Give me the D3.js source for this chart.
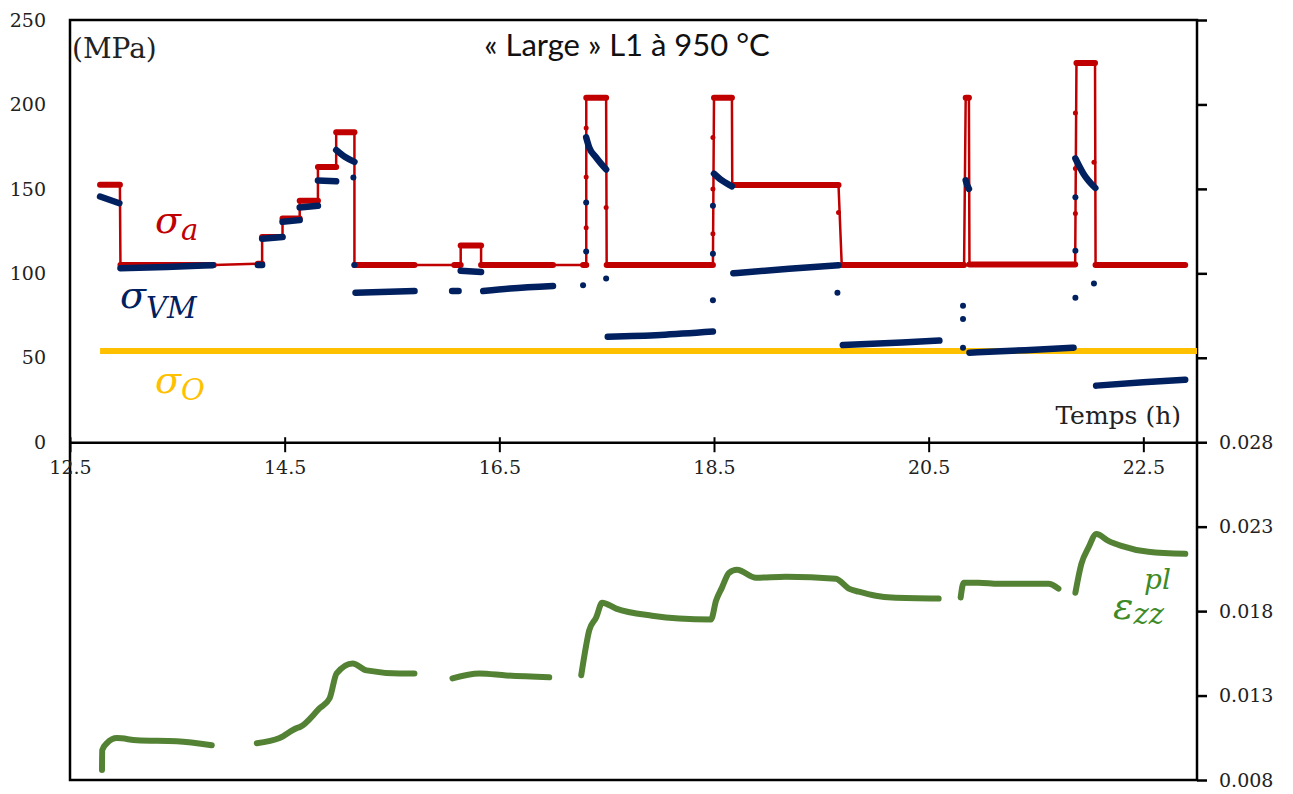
<!DOCTYPE html>
<html>
<head>
<meta charset="utf-8">
<script src="https://cdn.jsdelivr.net/npm/d3@7"></script>
<style>
  body { margin: 0; background: #fff; }
  svg { display: block; }
  .tick-lbl { font-family: "DejaVu Serif", serif; font-size: 19px; fill: #222; }
</style>
</head>
<body>
<svg width="1293" height="794"></svg>
<script>
// applied stress plateaus: [t start (h), t end (h), MPa]
const appliedSteps = [
  [12.78, 12.965, 152.5], [12.97, 13.84, 105], [14.25, 14.29, 105.7],
  [14.29, 14.48, 121.5], [14.48, 14.64, 132.5], [14.64, 14.81, 143],
  [14.81, 14.98, 163], [14.98, 15.15, 183.5], [15.15, 15.71, 105],
  [16.08, 16.14, 105], [16.14, 16.33, 116.5], [16.33, 17.0, 105],
  [17.28, 17.31, 105], [17.31, 17.495, 204], [17.50, 18.49, 105],
  [18.50, 18.667, 204], [18.67, 19.66, 152.3], [19.69, 20.83, 105],
  [20.845, 20.875, 204], [20.88, 21.865, 105.3], [21.877, 22.05, 224.5],
  [22.055, 22.89, 105]
];
// isolated applied-stress points during load changes: [t, MPa]
const appliedStray = [
  [17.309, 186], [17.309, 157], [17.309, 127], [17.495, 139],
  [18.49, 180.5], [18.49, 150], [18.49, 123.5], [19.66, 136],
  [21.867, 195], [21.867, 162], [21.867, 135.4], [22.04, 165.7]
];

// von Mises stress, measured runs: [t, MPa]
const vmRuns = [
  [[12.78, 145.5], [12.96, 141.5]],
  [[12.97, 103], [13.4, 103.8], [13.83, 104.8]],
  [[14.25, 105], [14.29, 105]],
  [[14.29, 120.5], [14.48, 121.5]],
  [[14.48, 130.5], [14.64, 131.5]],
  [[14.64, 139], [14.81, 140]],
  [[14.81, 155], [14.98, 154.5]],
  [[14.98, 173], [15.06, 169], [15.15, 166]],
  [[15.16, 88.5], [15.71, 89.5]],
  [[16.06, 89.5], [16.12, 89.5]],
  [[16.14, 101.5], [16.33, 100.8]],
  [[16.35, 89.5], [16.6, 91], [17.0, 92.5]],
  [[17.309, 180.5], [17.337, 174.6], [17.402, 168.6], [17.495, 161.5]],
  [[17.51, 62.5], [18.0, 63.5], [18.49, 65.5]],
  [[18.50, 159], [18.574, 155], [18.667, 151.5]],
  [[18.68, 100], [19.2, 102.7], [19.66, 104.8]],
  [[19.70, 57.5], [20.25, 59], [20.6, 60.2]],
  [[20.845, 155], [20.86, 152], [20.875, 150]],
  [[20.88, 53], [21.4, 54.5], [21.85, 56]],
  [[21.867, 168], [21.942, 159], [22.053, 150.5]],
  [[22.06, 33.5], [22.5, 35.5], [22.89, 37]]
];
// isolated von Mises points
const vmStray = [
  [15.14, 156.7], [15.15, 105], [17.28, 93], [17.309, 142], [17.309, 113],
  [17.495, 97], [18.49, 140], [18.49, 111.6], [18.49, 84], [19.65, 88.5],
  [20.82, 80.8], [20.82, 73], [20.82, 56], [21.867, 145], [21.867, 113.4],
  [21.867, 85.5], [22.04, 94]
];

// threshold sigma_O
const thresholdStress = 54;
const thresholdSpan = [12.78, 23];

// plastic strain eps_zz^pl runs: [t, strain]
const strainRuns = [
  [[12.798, 0.00859], [12.80, 0.00977], [12.844, 0.01018], [12.937, 0.01048],
   [13.123, 0.01036], [13.495, 0.0103], [13.821, 0.01006]],
  [[14.24, 0.01018], [14.453, 0.01048], [14.612, 0.01107], [14.64, 0.01113],
   [14.826, 0.01225], [14.919, 0.01284], [14.984, 0.01431], [15.133, 0.0149],
   [15.263, 0.01449], [15.57, 0.01431], [15.709, 0.01431]],
  [[16.063, 0.01402], [16.314, 0.01431], [16.565, 0.01419], [16.965, 0.01408]],
  [[17.263, 0.0142], [17.309, 0.01597], [17.337, 0.01685], [17.402, 0.01762],
   [17.458, 0.0185], [17.588, 0.01815], [17.923, 0.01773], [18.174, 0.01756],
   [18.472, 0.0175], [18.519, 0.01862], [18.574, 0.01939], [18.64, 0.02027],
   [18.714, 0.02045], [18.891, 0.01998], [19.17, 0.02004], [19.635, 0.01992],
   [19.756, 0.01933], [19.849, 0.01915], [20.007, 0.01891], [20.156, 0.0188],
   [20.593, 0.01874]],
  [[20.798, 0.0188], [20.826, 0.01968], [20.965, 0.01968], [21.151, 0.01962],
   [21.616, 0.01962], [21.709, 0.01933]],
  [[21.867, 0.01909], [21.923, 0.0208], [21.988, 0.02175], [22.063, 0.02257],
   [22.174, 0.02216], [22.295, 0.02186], [22.547, 0.02151], [22.891, 0.02139]]
];

const timeTicks = [12.5, 14.5, 16.5, 18.5, 20.5, 22.5];
const stressTicks = [0, 50, 100, 150, 200, 250];
const strainTicks = [0.008, 0.013, 0.018, 0.023, 0.028, 0.033, 0.038, 0.043, 0.048, 0.053];
const strainLabelled = [0.008, 0.013, 0.018, 0.023, 0.028];

(function (d3) {
  'use strict';
  const svg = d3.select('svg');
  const left = 70, right = 1197, top = 20, bottom = 780;

  const x = d3.scaleLinear().domain([12.5, 23]).range([left, right]);
  const yS = d3.scaleLinear().domain([-200, 250]).range([bottom, top]);
  const yE = d3.scaleLinear().domain([0.008, 0.053]).range([bottom, top]);

  const RED = '#c00000', BLUE = '#002060', GOLD = '#ffc000', GREEN = '#548235';

  // frame
  svg.append('rect')
    .attr('x', left).attr('y', top)
    .attr('width', right - left).attr('height', bottom - top)
    .attr('fill', 'none').attr('stroke', '#000').attr('stroke-width', 2.5);

  // left labels (stress)
  svg.selectAll('.sl').data(stressTicks).enter().append('text')
    .attr('class', 'tick-lbl')
    .attr('x', 46).attr('y', d => yS(d))
    .attr('dy', '0.35em').attr('text-anchor', 'end')
    .text(d => d);

  // x axis at stress 0
  const xAxis = d3.axisBottom(x).tickValues(timeTicks).tickFormat(d3.format('.1f'))
    .tickSize(10).tickSizeOuter(0);
  const xg = svg.append('g').attr('transform', `translate(0,${yS(0)})`).call(xAxis);
  xg.select('.domain').attr('stroke', '#000').attr('stroke-width', 2.5);
  xg.selectAll('.tick line').attr('y1', -5).attr('stroke-width', 2);
  xg.selectAll('.tick text').attr('class', 'tick-lbl').attr('y', 25).attr('dy', '0.35em');

  // right axis (strain)
  const rAxis = d3.axisRight(yE).tickValues(strainTicks)
    .tickFormat(d => strainLabelled.some(v => Math.abs(v - d) < 1e-9) ? d3.format('.3f')(d) : '')
    .tickSize(10).tickSizeOuter(0);
  const rg = svg.append('g').attr('transform', `translate(${right},0)`).call(rAxis);
  rg.select('.domain').remove();
  rg.selectAll('.tick line').attr('stroke-width', 2.5);
  rg.selectAll('.tick text').attr('class', 'tick-lbl').attr('x', 22);

  // threshold
  svg.append('line')
    .attr('x1', x(thresholdSpan[0])).attr('x2', x(thresholdSpan[1]))
    .attr('y1', yS(thresholdStress)).attr('y2', yS(thresholdStress))
    .attr('stroke', GOLD).attr('stroke-width', 6);

  // applied stress: connecting line + dense plateaus
  const appliedPts = appliedSteps.flatMap(d => [[d[0], d[2]], [d[1], d[2]]]);
  const line = d3.line().x(d => x(d[0])).y(d => yS(d[1]));
  svg.append('path').attr('d', line(appliedPts))
    .attr('fill', 'none').attr('stroke', RED).attr('stroke-width', 2.5);
  svg.selectAll('.ap').data(appliedSteps).enter().append('path')
    .attr('d', d => line([[d[0], d[2]], [d[1], d[2]]]))
    .attr('fill', 'none').attr('stroke', RED).attr('stroke-width', 6).attr('stroke-linecap', 'round');
  svg.selectAll('.as').data(appliedStray).enter().append('circle')
    .attr('cx', d => x(d[0])).attr('cy', d => yS(d[1])).attr('r', 2.5).attr('fill', RED);

  // von Mises
  svg.selectAll('.vm').data(vmRuns).enter().append('path')
    .attr('d', line.curve(d3.curveMonotoneX))
    .attr('fill', 'none').attr('stroke', BLUE).attr('stroke-width', 6.5)
    .attr('stroke-linecap', 'round').attr('stroke-linejoin', 'round');
  svg.selectAll('.vs').data(vmStray).enter().append('circle')
    .attr('cx', d => x(d[0])).attr('cy', d => yS(d[1])).attr('r', 3).attr('fill', BLUE);

  // strain
  const sline = d3.line().x(d => x(d[0])).y(d => yE(d[1])).curve(d3.curveMonotoneX);
  svg.selectAll('.st').data(strainRuns).enter().append('path')
    .attr('d', sline)
    .attr('fill', 'none').attr('stroke', GREEN).attr('stroke-width', 6)
    .attr('stroke-linecap', 'round').attr('stroke-linejoin', 'round');

  // texts
  svg.append('text').attr('x', 72).attr('y', 58)
    .attr('font-family', 'DejaVu Serif, serif').attr('font-size', 28).attr('fill', '#222')
    .text('(MPa)');
  svg.append('text').attr('x', 627).attr('y', 56).attr('text-anchor', 'middle')
    .attr('font-family', 'Lato, sans-serif').attr('font-size', 31).attr('fill', '#111')
    .text('« Large » L1 à 950 °C');
  svg.append('text').attr('x', 1181).attr('y', 424).attr('text-anchor', 'end')
    .attr('font-family', 'DejaVu Serif, serif').attr('font-size', 25).attr('fill', '#222')
    .text('Temps (h)');

  const sym = (px, py, color, main, sub, subDy, sup) => {
    const t = svg.append('text').attr('x', px).attr('y', py)
      .attr('font-family', 'DejaVu Serif, serif').attr('font-style', 'italic')
      .attr('font-size', 38).attr('fill', color);
    t.append('tspan').text(main);
    t.append('tspan').attr('dy', subDy).attr('font-size', 29).text(sub);
    if (sup) {
      svg.append('text').attr('x', px + 31).attr('y', py - 30)
        .attr('font-family', 'DejaVu Serif, serif').attr('font-style', 'italic')
        .attr('font-size', 28).attr('fill', color).text(sup);
    }
  };
  sym(155, 233, RED, 'σ', 'a', 7);
  sym(120, 308, BLUE, 'σ', 'VM', 10);
  sym(155, 393, GOLD, 'σ', 'O', 7);
  sym(1113, 619, '#3e8a26', 'ε', 'zz', 5, 'pl');
}(d3));
</script>
</body>
</html>
